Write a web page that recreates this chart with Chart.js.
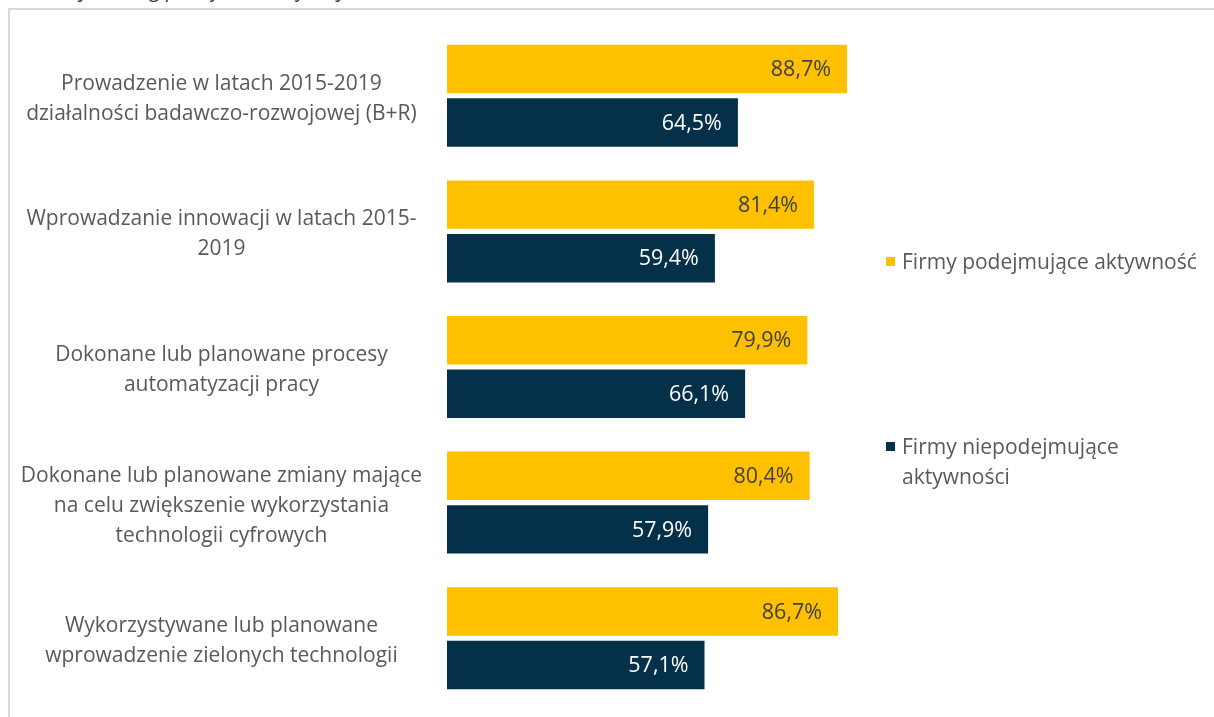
<!DOCTYPE html>
<html lang="pl">
<head>
<meta charset="utf-8">
<script src="https://cdn.jsdelivr.net/npm/chart.js@4.4.1/dist/chart.umd.min.js"></script>
<style>
     body { margin: 0; background: #fff; font-family: 'Open Sans', sans-serif; overflow: hidden; }
     #wrap { position: relative; width: 1214px; height: 717px; }
     #frame { position: absolute; left: 8px; top: 8px; width: 1300px; height: 800px; border: 2px solid #d9d9d9; box-sizing: border-box; }
     #title { position: absolute; right: 804px; top: -25px; font-size: 21px; font-style: italic; color: #404040; white-space: nowrap; }
     canvas { position: absolute; left: 0; top: 0; }
     .leg { position: absolute; left: 886px; width: 330px; font-size: 21px; line-height: 30px; color: #595959; padding-left: 16px; }
     .leg span { position: absolute; left: 0; top: 11px; width: 9px; height: 9px; }
</style>
</head>
<body>
<div id="wrap">
     <div id="frame"></div>
     <div id="title">Firmy według podejmowanej aktywności</div>
     <canvas id="actChart" width="1214" height="717"></canvas>
     <div class="leg" id="leg0" style="top:246px"></div>
     <div class="leg" id="leg1" style="top:431px; width:240px"></div>
</div>
<script>
     var categories = [
          ["Prowadzenie w latach 2015-2019", "działalności badawczo-rozwojowej (B+R)"],
          ["Wprowadzanie innowacji w latach 2015-", "2019"],
          ["Dokonane lub planowane procesy", "automatyzacji pracy"],
          ["Dokonane lub planowane zmiany mające", "na celu zwiększenie wykorzystania", "technologii cyfrowych"],
          ["Wykorzystywane lub planowane", "wprowadzenie zielonych technologii"]
     ];
     var activeFirms = [88.7, 81.4, 79.9, 80.4, 86.7];
     var inactiveFirms = [64.5, 59.4, 66.1, 57.9, 57.1];
     var seriesNames = ["Firmy podejmujące aktywność", "Firmy niepodejmujące aktywności"];
     var seriesColors = ['#FFC000', '#05304A'];
     var labelColors = ['#404040', '#ffffff'];

     function fmt(v) {
          return v.toFixed(1).replace('.', ',') + '%';
     }

     // value labels drawn inside the bar ends
     var valueLabels = {
          id: 'valueLabels',
          afterDatasetsDraw: function(chart) {
               var ctx = chart.ctx;
               ctx.save();
               ctx.font = '21.5px "Open Sans"';
               ctx.textAlign = 'right';
               ctx.textBaseline = 'middle';
               chart.data.datasets.forEach(function(ds, i) {
                    chart.getDatasetMeta(i).data.forEach(function(bar, j) {
                         ctx.fillStyle = labelColors[i];
                         ctx.fillText(fmt(ds.data[j]), bar.x - 16, bar.y + 1);
                    });
               });
               ctx.restore();
          }
     };

     var chart = new Chart('actChart', {
          type: 'bar',
          data: {
               labels: categories,
               datasets: [
                    {
                         label: seriesNames[0],
                         data: activeFirms,
                         backgroundColor: seriesColors[0],
                         borderWidth: 0,
                         barPercentage: 0.905,
                         categoryPercentage: 0.79
                    },
                    {
                         label: seriesNames[1],
                         data: inactiveFirms,
                         backgroundColor: seriesColors[1],
                         borderWidth: 0,
                         barPercentage: 0.905,
                         categoryPercentage: 0.79
                    }
               ]
          },
          options: {
               indexAxis: 'y',
               responsive: false,
               animation: false,
               events: [],
               layout: {
                    padding: { left: 0, right: 316, top: 28, bottom: 11 }
               },
               plugins: {
                    legend: { display: false },
                    tooltip: { enabled: false }
               },
               scales: {
                    x: {
                         display: false,
                         min: 0,
                         max: 100
                    },
                    y: {
                         border: { display: false },
                         grid: { display: false, drawTicks: false },
                         ticks: {
                              crossAlign: 'center',
                              padding: 25,
                              labelOffset: 3,
                              color: '#595959',
                              font: { family: 'Open Sans', size: 21, lineHeight: 1.43 }
                         },
                         afterFit: function(scale) {
                              scale.width = 447;
                              // multi-line labels should not shrink the plot
                              scale.paddingTop = 0;
                              scale.paddingBottom = 0;
                         }
                    }
               }
          },
          plugins: [valueLabels]
     });

     // legend next to the plot
     chart.data.datasets.forEach(function(ds, i) {
          var el = document.getElementById('leg' + i);
          el.innerHTML = '<span style="background:' + ds.backgroundColor + '"></span>' + ds.label;
     });
</script>
</body>
</html>
